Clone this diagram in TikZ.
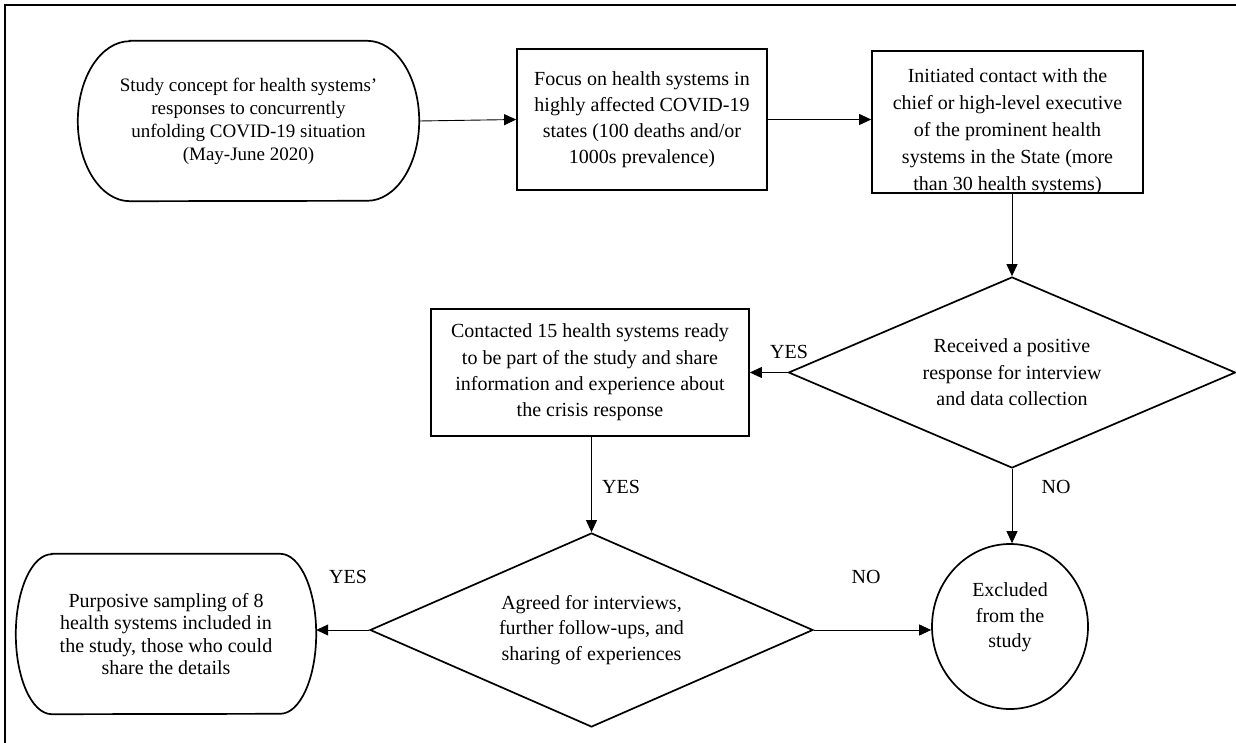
\documentclass[tikz,border=0pt]{standalone}
\usepackage{fontspec}
\setmainfont{Liberation Serif}
\usetikzlibrary{shapes.geometric,arrows.meta}
\begin{document}
\begin{tikzpicture}[x=1pt,y=1pt,
  shapeline/.style={line width=1.7pt},
  txt/.style={align=center,font=\fontsize{20}{26}\selectfont,inner sep=0pt},
  boxnode/.style={draw,shapeline,rectangle,inner sep=0pt},
  decision/.style={draw,shapeline,diamond,inner sep=0pt},
  conn/.style={line width=0.9pt,-{Triangle[length=12pt,width=11pt]}},
  lbl/.style={font=\fontsize{20}{24}\selectfont,inner sep=0pt},
]
\useasboundingbox (0,0) rectangle (1236,-743);
% frame (top and left edges visible)
\draw[line width=2.2pt] (5,-743) -- (5,-5) -- (1236,-5);

% A: start terminator
\node[txt, font=\fontsize{19}{23}\selectfont, minimum width=341pt, minimum height=163pt] (A) at (248.5,-121)
  {Study concept for health systems'\\responses to concurrently\\unfolding COVID-19 situation\\(May-June 2020)};
\draw[shapeline] ([xshift=52pt,yshift=-1.5pt]A.north west) -- ([xshift=-52pt,yshift=-1.5pt]A.north east)
  arc[start angle=90,end angle=-90,x radius=52pt,y radius=80pt]
  -- ([xshift=52pt,yshift=1.5pt]A.south west)
  arc[start angle=270,end angle=90,x radius=52pt,y radius=80pt] -- cycle;

% B
\node[boxnode, txt, minimum width=250pt, minimum height=141pt] (B) at (642,-119.5)
  {Focus on health systems in\\highly affected COVID-19\\states (100 deaths and/or\\1000s prevalence)};

% C (text clipped by the box)
\node[boxnode, minimum width=271pt, minimum height=142pt] (C) at (1007.5,-122) {};
\begin{scope}
  \clip ([shift={(1.7pt,1.7pt)}]C.south west) rectangle ([shift={(-1.7pt,-1.7pt)}]C.north east);
  \node[txt, font=\fontsize{20}{27}\selectfont] (Ct) at (1007.5,-132)
    {Initiated contact with the\\chief or high-level executive\\of the prominent health\\systems in the State (more\\than 30 health systems)};
\end{scope}

% D decision
\node[decision, txt, aspect=2.34, minimum width=447pt, minimum height=191pt, font=\fontsize{20}{26.5}\selectfont] (D) at (1012,-372.5)
  {Received a positive\\response for interview\\and data collection};

% E
\node[boxnode, txt, minimum width=318pt, minimum height=127pt, font=\fontsize{20}{26.3}\selectfont] (E) at (590,-372.5)
  {Contacted 15 health systems ready\\to be part of the study and share\\information and experience about\\the crisis response};

% F decision
\node[decision, txt, aspect=2.28, minimum width=443pt, minimum height=194pt, font=\fontsize{20}{25.5}\selectfont] (F) at (591.5,-630)
  {Agreed for interviews,\\further follow-ups, and\\sharing of experiences};

% G end terminator
\node[txt, minimum width=300pt, minimum height=162pt, font=\fontsize{20}{22.5}\selectfont] (G) at (166,-634)
  {Purposive sampling of 8\\health systems included in\\the study, those who could\\share the details};
\draw[shapeline] ([xshift=36pt,yshift=-1pt]G.north west) -- ([xshift=-36pt,yshift=-1pt]G.north east)
  arc[start angle=90,end angle=-90,x radius=36pt,y radius=80pt]
  -- ([xshift=36pt,yshift=1pt]G.south west)
  arc[start angle=270,end angle=90,x radius=36pt,y radius=80pt] -- cycle;

% H excluded
\node[draw, shapeline, ellipse, minimum width=156pt, minimum height=165pt, inner sep=0pt] (H) at (1010,-626.5) {};
\node[txt, font=\fontsize{20}{25.5}\selectfont] (Ht) at (1010,-617.5) {Excluded\\from the\\study};

% connectors
\draw[conn] (A.east) -- (B.west);
\draw[conn] (B.east) -- (B.east -| C.west);
\draw[conn] (D.north |- C.south) -- (D.north);
\draw[conn] (D.west) -- (D.west -| E.east);
\draw[conn] (F.north |- E.south) -- (F.north);
\draw[conn] (F.west) -- (F.west -| G.east);
\draw[conn] (F.east) -- (F.east -| H.west);
\draw[conn] (D.south) -- (D.south |- H.north);

% labels
\node[lbl] (l1) at (789,-352) {YES};
\node[lbl] (l2) at (621,-487) {YES};
\node[lbl] (l3) at (348,-577) {YES};
\node[lbl] (l4) at (866,-577) {NO};
\node[lbl] (l5) at (1056,-487) {NO};
\end{tikzpicture}
\end{document}
